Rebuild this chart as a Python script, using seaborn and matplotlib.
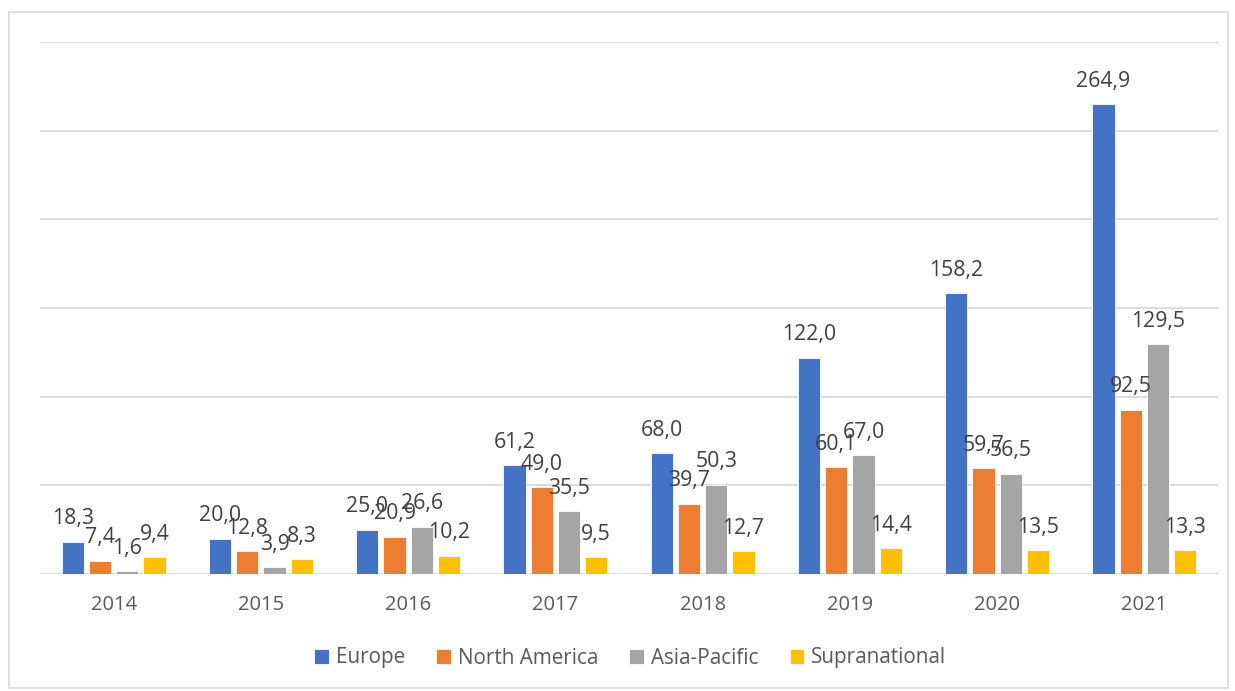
import pandas as pd
import matplotlib.pyplot as plt
import seaborn as sns
from matplotlib.patches import Rectangle

years = ["2014", "2015", "2016", "2017", "2018", "2019", "2020", "2021"]
regions = ["Europe", "North America", "Asia-Pacific", "Supranational"]
europe = [18.3, 20.0, 25.0, 61.2, 68.0, 122.0, 158.2, 264.9]
north_america = [7.4, 12.8, 20.9, 49.0, 39.7, 60.1, 59.7, 92.5]
asia_pacific = [1.6, 3.9, 26.6, 35.5, 50.3, 67.0, 56.5, 129.5]
supranational = [9.4, 8.3, 10.2, 9.5, 12.7, 14.4, 13.5, 13.3]
colors = ["#4472C4", "#ED7D31", "#A5A5A5", "#FFC000"]

# long format table for seaborn
series = [europe, north_america, asia_pacific, supranational]
rows = []
for reg, vals in zip(regions, series):
    for y, v in zip(years, vals):
        rows.append({"year": y, "region": reg, "value": v})
df = pd.DataFrame(rows)

sns.set_theme(style="white")
plt.rcParams['font.family'] = ['Open Sans', 'DejaVu Sans']

fig = plt.figure(figsize=(12.35, 6.91), dpi=100)
ax = fig.add_axes([40 / 1235, 1 - 574 / 691, 1178 / 1235, 532 / 691])

sns.barplot(data=df, x="year", y="value", hue="region", palette=colors,
            width=0.74, gap=0.18, saturation=1, ax=ax, legend=True,
            edgecolor="white", linewidth=0.6)

# data labels with decimal comma
for cont, vals in zip(ax.containers, series):
    labels = [f"{v:.1f}".replace(".", ",") for v in vals]
    ax.bar_label(cont, labels=labels, padding=9, fontsize=15.3, color="#404040")

ax.set_ylim(0, 300)
ax.set_yticks(range(0, 301, 50))
ax.set_yticklabels([])
ax.tick_params(axis="y", length=0)
ax.tick_params(axis="x", length=0, labelsize=14.5, labelcolor="#595959", pad=15)
ax.grid(axis="y", color="#D9D9D9", linewidth=1.3)
ax.set_axisbelow(True)
for s in ax.spines.values():
    s.set_visible(False)
ax.set_xlabel("")
ax.set_ylabel("")

handles, labs = ax.get_legend_handles_labels()
ax.legend_.remove()
fig.legend(handles, labs, loc="center", bbox_to_anchor=(0.5105, 1 - 658 / 691),
           ncol=4, frameon=False, fontsize=14.9, labelcolor="#595959",
           handlelength=0.7, handleheight=0.7, handletextpad=0.35,
           columnspacing=1.5)

# light chart border
fig.patches.append(Rectangle((9 / 1235, 3 / 691), 1219 / 1235, 676 / 691,
                             transform=fig.transFigure, fill=False,
                             edgecolor="#D9D9D9", linewidth=1.2))

fig.savefig("out.png", dpi=100)
